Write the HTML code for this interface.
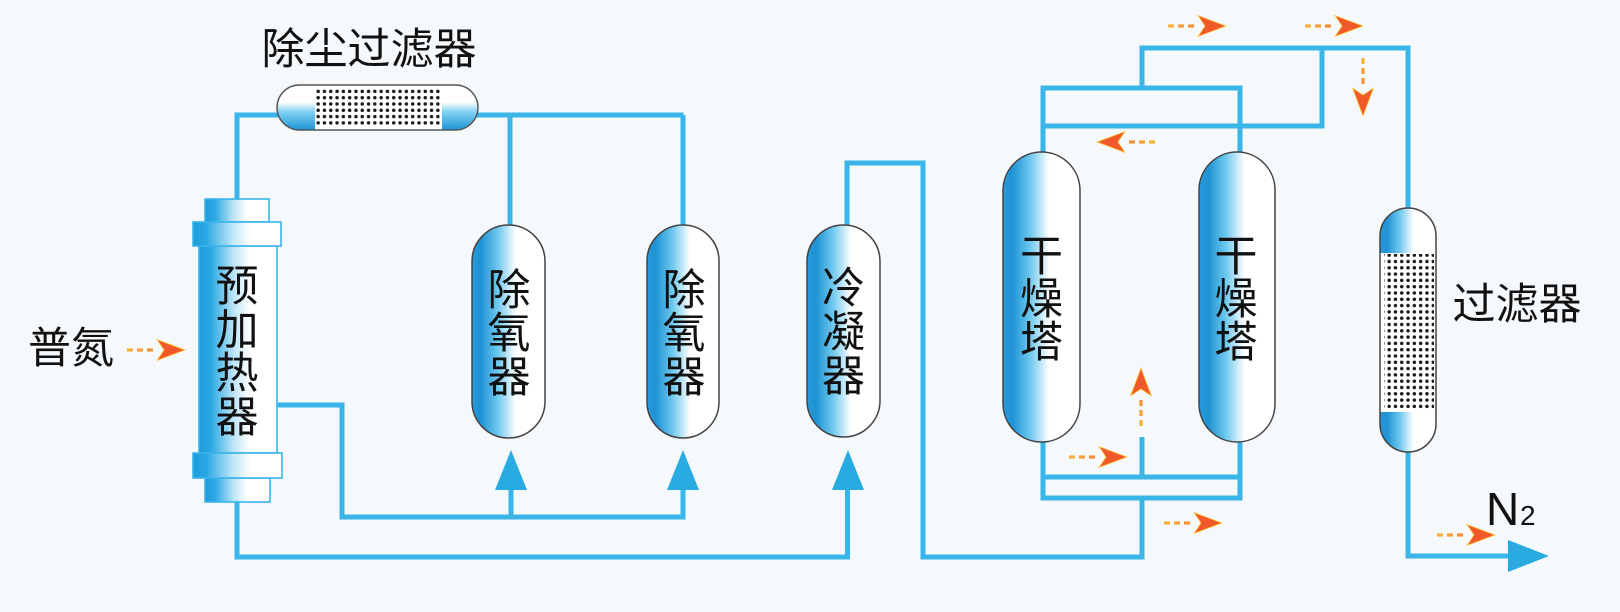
<!DOCTYPE html>
<html>
<head>
<meta charset="utf-8">
<style>
html,body{margin:0;padding:0;background:#f6f9fc;}
svg{display:block;}
text{font-family:"Liberation Sans","Noto Sans CJK SC",sans-serif;fill:#111;}
</style>
</head>
<body>
<svg width="1620" height="612" viewBox="0 0 1620 612" xmlns="http://www.w3.org/2000/svg">
<defs>
  <linearGradient id="vg" x1="0" y1="0" x2="1" y2="0">
    <stop offset="0" stop-color="#2a9ad8"/>
    <stop offset="0.12" stop-color="#1e92d4"/>
    <stop offset="0.35" stop-color="#6cc7ee"/>
    <stop offset="0.6" stop-color="#ffffff"/>
    <stop offset="1" stop-color="#ffffff"/>
  </linearGradient>
  <linearGradient id="pg" x1="0" y1="0" x2="1" y2="0">
    <stop offset="0" stop-color="#1c9ddc"/>
    <stop offset="0.15" stop-color="#2aa8e4"/>
    <stop offset="0.45" stop-color="#bfe6f7"/>
    <stop offset="0.65" stop-color="#ffffff"/>
    <stop offset="1" stop-color="#ffffff"/>
  </linearGradient>
  <linearGradient id="cg" x1="0" y1="0" x2="0" y2="1">
    <stop offset="0" stop-color="#ffffff"/>
    <stop offset="0.38" stop-color="#ffffff"/>
    <stop offset="0.6" stop-color="#7fd0f2"/>
    <stop offset="1" stop-color="#1e95d6"/>
  </linearGradient>
  <pattern id="dots" x="0" y="0" width="6.3" height="6.3" patternUnits="userSpaceOnUse">
    <circle cx="3.15" cy="3.15" r="1.75" fill="#1a1a1a"/>
  </pattern>
  <clipPath id="dfc"><rect x="277" y="85" width="201" height="45" rx="22.5"/></clipPath>
  <clipPath id="ffc"><rect x="1380" y="208" width="56" height="244" rx="28"/></clipPath>
  <g id="arr">
    <rect x="0" y="-1.6" width="6" height="3.2" fill="#f8b03c"/>
    <rect x="10" y="-1.6" width="6" height="3.2" fill="#f7a03a"/>
    <rect x="20" y="-1.6" width="6" height="3.2" fill="#f59036"/>
    <polygon points="58,0 30,-10.5 37,0 30,10.5" fill="#f2592a" stroke="#ffc83c" stroke-width="0.8"/>
  </g>
</defs>

<rect x="0" y="0" width="1620" height="612" fill="#f6f9fc"/>

<!-- pipes -->
<g fill="none" stroke="#3ab5e9" stroke-width="5" stroke-linejoin="miter" stroke-linecap="butt">
  <path d="M237 200 V115 H280"/>
  <path d="M476 115 H683.5"/>
  <path d="M510 115 V226"/>
  <path d="M683 115 V226"/>
  <path d="M276 405 H342 V517 H685.5"/>
  <path d="M511 519.5 V488"/>
  <path d="M683 519.5 V488"/>
  <path d="M237 500 V557 H847.5 V488"/>
  <path d="M847 226 V163 H923 V557 H1142 V496"/>
  <path d="M1043 440 V498 H1240 V440"/>
  <path d="M1043 477 H1240"/>
  <path d="M1142 479 V437"/>
  <path d="M1043 154 V88 H1240 V154"/>
  <path d="M1043 126 H1322 V46"/>
  <path d="M1142 90 V48 H1408 V210"/>
  <path d="M1408 450 V556 H1510"/>
</g>

<!-- triangles -->
<g fill="#29abe2">
  <polygon points="495,490 527,490 511,450"/>
  <polygon points="667,490 699,490 683,450"/>
  <polygon points="832,490 864,490 848,450"/>
  <polygon points="1508,540 1549,556 1508,572"/>
</g>

<!-- dust filter -->
<rect x="277" y="85" width="201" height="45" rx="22.5" fill="#ffffff"/>
<g clip-path="url(#dfc)">
  <rect x="277" y="85" width="38" height="45" fill="url(#cg)"/>
  <rect x="442" y="85" width="36" height="45" fill="url(#cg)"/>
  <rect x="316" y="87" width="126" height="40" fill="url(#dots)"/>
</g>
<rect x="277" y="85" width="201" height="45" rx="22.5" fill="none" stroke="#555" stroke-width="1.4"/>

<!-- preheater -->
<g stroke="#3ab5e9" stroke-width="1.6">
  <rect x="205" y="199" width="64" height="23" fill="url(#pg)"/>
  <rect x="199" y="246" width="78" height="207" fill="url(#pg)"/>
  <rect x="193" y="222" width="88" height="24" fill="url(#pg)"/>
  <rect x="205" y="478" width="65" height="24" fill="url(#pg)"/>
  <rect x="193" y="453" width="89" height="25" fill="url(#pg)"/>
</g>

<!-- vessels -->
<g fill="url(#vg)" stroke="#444" stroke-width="1.5">
  <rect x="472" y="225" width="73" height="213" rx="36.5"/>
  <rect x="647" y="225" width="72" height="213" rx="36"/>
  <rect x="807" y="225" width="73" height="212" rx="36.5"/>
  <rect x="1003" y="152" width="77" height="290" rx="38.5"/>
  <rect x="1199" y="152" width="76" height="290" rx="38"/>
</g>

<!-- right filter -->
<rect x="1380" y="208" width="56" height="244" rx="28" fill="#ffffff"/>
<g clip-path="url(#ffc)">
  <rect x="1380" y="208" width="56" height="45" fill="url(#vg)"/>
  <rect x="1380" y="412" width="56" height="40" fill="url(#vg)"/>
  <rect x="1384" y="254" width="50" height="157" fill="url(#dots)"/>
</g>
<rect x="1380" y="208" width="56" height="244" rx="28" fill="none" stroke="#444" stroke-width="1.5"/>

<!-- arrows -->
<use href="#arr" transform="translate(127,350)"/>
<use href="#arr" transform="translate(1168,26)"/>
<use href="#arr" transform="translate(1305,26)"/>
<use href="#arr" transform="translate(1363,58) rotate(90)"/>
<use href="#arr" transform="translate(1155,142) rotate(180)"/>
<use href="#arr" transform="translate(1141,426) rotate(-90)"/>
<use href="#arr" transform="translate(1069,457)"/>
<use href="#arr" transform="translate(1164,523)"/>
<use href="#arr" transform="translate(1437,535)"/>

<!-- labels -->
<g font-size="43" text-anchor="middle">
  <text x="369" y="64">除尘过滤器</text>
  <text x="71" y="363">普氮</text>

  <text x="237" y="301">预</text>
  <text x="237" y="345">加</text>
  <text x="237" y="388">热</text>
  <text x="237" y="432">器</text>

  <text x="509" y="305">除</text>
  <text x="509" y="348">氧</text>
  <text x="509" y="392">器</text>

  <text x="684" y="305">除</text>
  <text x="684" y="348">氧</text>
  <text x="684" y="392">器</text>

  <text x="843.5" y="303">冷</text>
  <text x="843.5" y="347">凝</text>
  <text x="843.5" y="391">器</text>

  <text x="1041.5" y="271">干</text>
  <text x="1041.5" y="314">燥</text>
  <text x="1041.5" y="357">塔</text>

  <text x="1236" y="271">干</text>
  <text x="1236" y="314">燥</text>
  <text x="1236" y="357">塔</text>

  <text x="1517" y="319">过滤器</text>
</g>
<text x="1486" y="525" font-size="46">N</text>
<text x="1520" y="525" font-size="28">2</text>
</svg>
</body>
</html>
